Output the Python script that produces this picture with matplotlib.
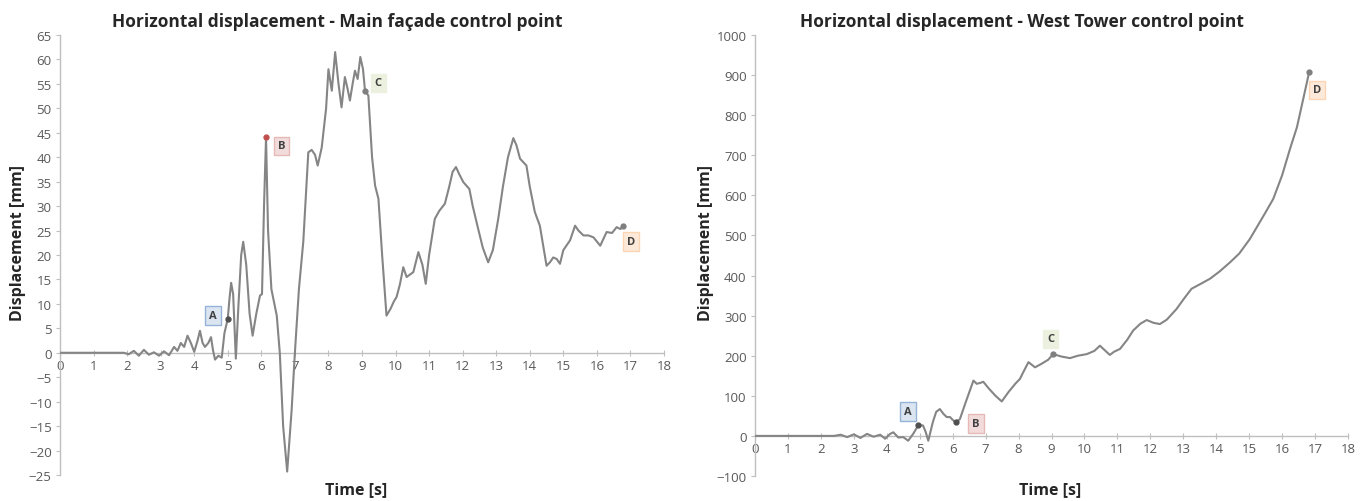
import matplotlib
matplotlib.use("Agg")
import matplotlib.pyplot as plt

plt.rcParams["font.family"] = ["Open Sans", "DejaVu Sans"]

# ── Main façade control point ────────────────────────────────────────────────
facade_t = [0, 1.9, 2.05, 2.2, 2.35, 2.5, 2.65, 2.8, 2.95, 3.1, 3.25, 3.4, 3.5,
            3.6, 3.7, 3.8, 3.9, 4.0, 4.1, 4.17, 4.25, 4.32, 4.42, 4.5, 4.56,
            4.62, 4.72, 4.82, 4.9, 5.0, 5.05, 5.1, 5.16, 5.24, 5.32, 5.4, 5.46,
            5.55, 5.65, 5.74, 5.85, 5.96, 6.02, 6.08, 6.14, 6.2, 6.3, 6.46,
            6.55, 6.65, 6.77, 6.9, 7.0, 7.12, 7.25, 7.4, 7.5, 7.6, 7.68, 7.8,
            7.93, 8.0, 8.1, 8.2, 8.3, 8.39, 8.49, 8.57, 8.64, 8.72, 8.79, 8.87,
            8.95, 9.03, 9.09, 9.19, 9.3, 9.39, 9.49, 9.6, 9.73, 9.85, 9.95,
            10.03, 10.13, 10.23, 10.33, 10.43, 10.53, 10.68, 10.8, 10.9, 11.0,
            11.17, 11.3, 11.47, 11.6, 11.7, 11.8, 11.9, 12.02, 12.2, 12.3,
            12.46, 12.6, 12.76, 12.9, 13.06, 13.2, 13.35, 13.51, 13.6, 13.71,
            13.9, 14.0, 14.15, 14.3, 14.5, 14.6, 14.7, 14.8, 14.9, 15.0, 15.2,
            15.35, 15.45, 15.6, 15.75, 15.9, 16.1, 16.29, 16.45, 16.59, 16.7,
            16.79]
facade_d = [0, 0, -0.3, 0.4, -0.6, 0.6, -0.4, 0.1, -0.6, 0.3, -0.5, 1.2, 0.4,
            2.0, 1.2, 3.5, 2.0, 0.2, 2.5, 4.5, 2.0, 1.2, 2.0, 3.2, 0.5,
            -1.4, -0.6, -1.0, 4.0, 7.0, 11.0, 14.3, 12.0, -1.2, 10, 20, 22.7,
            18, 8, 3.5, 8, 11.7, 12, 30, 44.1, 25, 13, 7.6,
            0, -15, -24.3, -12, 0, 13, 22.7, 41, 41.5, 40.5, 38.3, 42,
            50, 58, 53.6, 61.5, 55, 50.2, 56.4, 54, 51.6, 55, 57.7, 56,
            60.5, 58, 53.6, 52.6, 40, 34.2, 31.5, 20, 7.6, 9, 10.5,
            11.4, 14, 17.5, 15.5, 16, 16.5, 20.6, 18, 14.1, 20,
            27.4, 29, 30.5, 34, 37, 38, 36.5, 34.9, 33.5, 30,
            25.4, 21.5, 18.5, 21, 27.4, 34, 40, 43.9, 42.5, 39.7,
            38.3, 34, 28.8, 26, 17.8, 18.5, 19.5, 19.2, 18.2, 21, 23,
            26, 25, 24, 24, 23.6, 21.9, 24.7, 24.5, 25.7, 25.3,
            26]

# ── West Tower control point ─────────────────────────────────────────────────
tower_t = [0, 2.4, 2.6, 2.8, 3.0, 3.2, 3.4, 3.6, 3.8, 3.95, 4.1, 4.2, 4.35,
           4.5, 4.65, 4.8, 4.96, 5.1, 5.18, 5.26, 5.4, 5.5, 5.61, 5.72, 5.82,
           5.92, 6.0, 6.1, 6.22, 6.4, 6.63, 6.73, 6.83, 6.93, 7.1, 7.3, 7.49,
           7.7, 7.9, 8.04, 8.15, 8.3, 8.5, 8.7, 8.9, 9.05, 9.3, 9.56, 9.8,
           10.07, 10.3, 10.47, 10.6, 10.77, 10.9, 11.08, 11.3, 11.48, 11.7,
           11.89, 12.1, 12.29, 12.5, 12.8, 13.0, 13.25, 13.5, 13.81, 14.1,
           14.42, 14.7, 15.02, 15.3, 15.5, 15.73, 16.0, 16.24, 16.45, 16.64,
           16.82]
tower_d = [0, 0, 3, -3, 4, -5, 5, -2, 3, -7, 5, 9, -4,
           -3, -12, 5, 27, 26, 10, -12, 35, 60, 67, 55, 47,
           47, 40, 34, 42, 85, 138, 130, 132, 135, 118, 100, 86,
           110, 130, 142, 160, 184, 171, 180, 190, 204, 198, 194, 200,
           204, 212, 225, 215, 202, 210, 217, 240, 263, 280,
           289, 282, 279, 290, 317, 340, 367, 378, 392, 410,
           433, 455, 491, 530, 558, 591, 650, 716, 770, 840,
           907]

# Labelled instants: letter, marker (t, d), label (t, d)
LETTERS = ["A", "B", "C", "D"]
facade_marks = [(5.0, 7.0), (6.14, 44.1), (9.09, 53.6), (16.79, 26)]
facade_labels = [(4.56, 7.6), (6.6, 42.3), (9.48, 55.2), (17.02, 22.7)]
tower_marks = [(4.96, 27), (6.1, 34), (9.05, 204), (16.82, 907)]
tower_labels = [(4.64, 60), (6.71, 30), (8.98, 242), (17.06, 863)]

BOX_FACE = ["#dbe5f1", "#f2dcdb", "#ebf1de", "#fde9d9"]
BOX_EDGE = ["#95b3d7", "#e6b9b8", "#ebf1de", "#fcd5b4"]

LINE = "#858585"
AXIS = "#bfbfbf"
TXT = "#595959"


def style_axes(ax, xmax, ylo, yhi, ystep):
    ax.set_xlim(0, xmax)
    ax.set_ylim(ylo, yhi)
    ax.set_xticks(range(0, xmax + 1))
    ax.set_yticks(range(ylo, yhi + 1, ystep))
    ax.spines["top"].set_visible(False)
    ax.spines["right"].set_visible(False)
    ax.spines["bottom"].set_position(("data", 0))
    for s in ("left", "bottom"):
        ax.spines[s].set_color(AXIS)
        ax.spines[s].set_linewidth(1.0)
    ax.tick_params(axis="x", direction="inout", length=5, color=AXIS,
                   labelcolor=TXT, labelsize=9.5, pad=2)
    ax.tick_params(axis="y", direction="out", length=3, color=AXIS,
                   labelcolor=TXT, labelsize=9.5, pad=3)
    ax.set_xlabel("Time [s]", fontsize=11.5, fontweight="bold", color="#262626")
    ax.set_ylabel("Displacement [mm]", fontsize=11.5, fontweight="bold",
                  color="#262626")
    ax.xaxis.label.set_va("center")
    ax.yaxis.label.set_va("center")


def mark_points(ax, marks, labels, dot_cols):
    for i, letter in enumerate(LETTERS):
        mx, my = marks[i]
        lx, ly = labels[i]
        ax.plot(mx, my, "o", ms=3.5, color=dot_cols[i], zorder=4)
        ax.text(lx, ly, letter, fontsize=8, fontweight="bold",
                color="#404040", ha="center", va="center", zorder=5,
                bbox=dict(boxstyle="square,pad=0.35", facecolor=BOX_FACE[i],
                          edgecolor=BOX_EDGE[i], linewidth=1.0))


fig = plt.figure(figsize=(13.71, 5.02), dpi=100)
W, H = 1371, 502

ax1 = fig.add_axes([60 / W, 1 - 476 / H, 604 / W, 440 / H])
ax1.plot(facade_t, facade_d, color=LINE, lw=1.5, zorder=3,
         solid_joinstyle="round")
style_axes(ax1, 18, -25, 65, 5)
mark_points(ax1, facade_marks, facade_labels,
            ["#4f4f4f", "#c0504d", "#7f7f7f", "#7f7f7f"])
ax1.yaxis.set_label_coords(-42 / 604, 0.53)
ax1.xaxis.set_label_coords(0.49, -0.032)

ax2 = fig.add_axes([755 / W, 1 - 477 / H, 593 / W, 441 / H])
ax2.plot(tower_t, tower_d, color=LINE, lw=1.5, zorder=3,
         solid_joinstyle="round")
style_axes(ax2, 18, -100, 1000, 100)
mark_points(ax2, tower_marks, tower_labels,
            ["#4f4f4f", "#4f4f4f", "#7f7f7f", "#7f7f7f"])
ax2.yaxis.set_label_coords(-49 / 593, 0.53)
ax2.xaxis.set_label_coords(0.497, -0.03)

fig.text(337 / W, 1 - 22 / H,
         "Horizontal displacement - Main façade control point",
         fontsize=12.5, fontweight="bold", color="#262626",
         ha="center", va="center")
fig.text(1022 / W, 1 - 22 / H,
         "Horizontal displacement - West Tower control point",
         fontsize=12.5, fontweight="bold", color="#262626",
         ha="center", va="center")

fig.savefig("out.png", dpi=100)
